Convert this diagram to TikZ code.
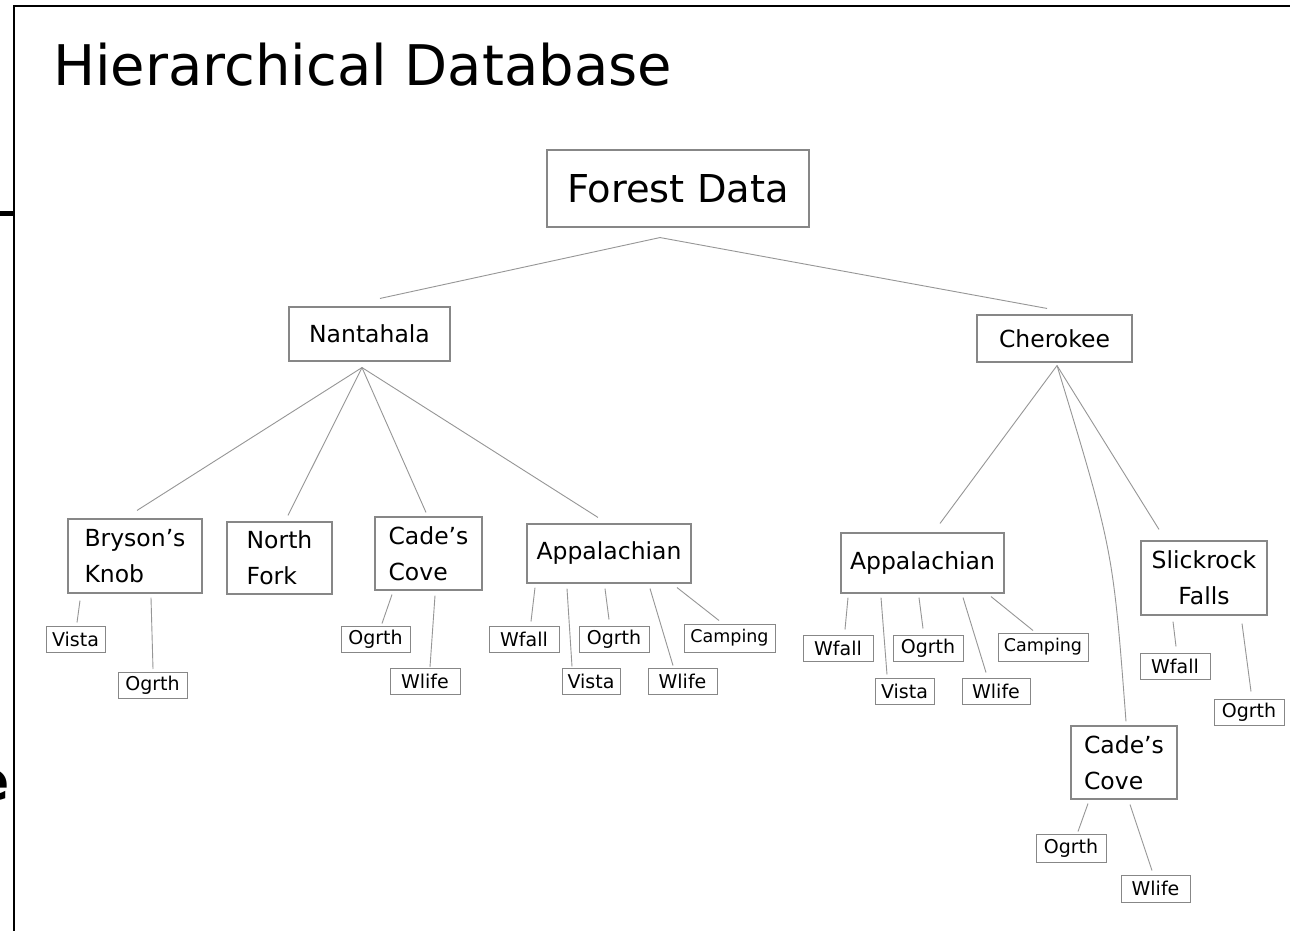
\documentclass[tikz,border=0pt]{standalone}
\usepackage{fontspec}
\setmainfont{DejaVu Sans}
\usetikzlibrary{calc}

\definecolor{boxgray}{RGB}{135,135,135}
\definecolor{linkgray}{RGB}{150,150,150}

\newcommand{\titlefont}{\fontsize{56}{60}\selectfont}
\newcommand{\rootfont}{\fontsize{38.4}{44}\selectfont}
\newcommand{\topfont}{\fontsize{23.5}{36}\selectfont}
\newcommand{\midfont}{\fontsize{23.5}{36}\selectfont}
\newcommand{\leaffont}{\fontsize{19}{22}\selectfont}
\newcommand{\campfont}{\fontsize{17.5}{20}\selectfont}

\begin{document}
\begin{tikzpicture}[x=1pt, y=-1pt,
  frame/.style={line width=2.2pt, black},
  box/.style={draw=boxgray, line width=1.1pt, inner sep=0pt, text=black},
  rootbox/.style={box, font=\rootfont},
  topbox/.style={box, font=\topfont},
  midbox/.style={box, font=\midfont, align=left},
  leaf/.style={box, font=\leaffont, line width=1pt, minimum height=26},
  link/.style={draw=linkgray, line width=0.9pt}]

\useasboundingbox[fill=white] (0,0) rectangle (1290,931);

% page frame
\draw[frame] (13.8,931) -- (13.8,5.7) -- (1290,5.7);
\draw[line width=5.5pt] (0,213.5) -- (13.8,213.5);
\node[anchor=base east, inner sep=0pt, font=\fontsize{55}{60}\selectfont\bfseries] (edge) at (10,800) {e};

% title
\node[anchor=base west, inner sep=0pt, font=\titlefont] (title) at (53,86) {Hierarchical Database};

% root and first level
\node[rootbox, minimum width=262, minimum height=77] (forest) at (678,188.5) {Forest Data};
\node[topbox, minimum width=161, minimum height=54] (nant) at (369.5,334) {Nantahala};
\node[topbox, minimum width=155, minimum height=47] (cher) at (1054.5,338.5) {Cherokee};

% second level
\node[midbox, minimum width=134, minimum height=74] (bryson) at (135,556) {Bryson's\\Knob};
\node[midbox, minimum width=105, minimum height=72] (north) at (279.5,558) {North\\Fork};
\node[midbox, minimum width=107, minimum height=73] (cadeA) at (428.5,553.5) {Cade's\\Cove};
\node[midbox, minimum width=164, minimum height=59] (appA) at (609,553.5) {Appalachian};
\node[midbox, minimum width=163, minimum height=60] (appB) at (922.5,563) {Appalachian};
\node[box, font=\midfont, align=center, minimum width=126, minimum height=74] (slick) at (1204,578) {Slickrock\\Falls};
\node[midbox, minimum width=106, minimum height=73] (cadeB) at (1124,762.5) {Cade's\\Cove};

% leaves
\node[leaf, minimum width=59] (bVista) at (75.5,639) {Vista};
\node[leaf, minimum width=69] (bOgrth) at (152.5,685.5) {Ogrth};
\node[leaf, minimum width=69] (cOgrth) at (375.5,639) {Ogrth};
\node[leaf, minimum width=70] (cWlife) at (425,681.5) {Wlife};
\node[leaf, minimum width=70] (aWfall) at (524,639) {Wfall};
\node[leaf, minimum width=58] (aVista) at (591,681) {Vista};
\node[leaf, minimum width=70] (aOgrth) at (614,639) {Ogrth};
\node[leaf, minimum width=69] (aWlife) at (682.5,681) {Wlife};
\node[leaf, minimum width=91, minimum height=28, font=\campfont] (aCamp) at (729.5,638) {Camping};
\node[leaf, minimum width=70] (pWfall) at (838,648) {Wfall};
\node[leaf, minimum width=59] (pVista) at (904.5,691) {Vista};
\node[leaf, minimum width=70] (pOgrth) at (928,648) {Ogrth};
\node[leaf, minimum width=68] (pWlife) at (996,691) {Wlife};
\node[leaf, minimum width=90, minimum height=28, font=\campfont] (pCamp) at (1043,647) {Camping};
\node[leaf, minimum width=70] (sWfall) at (1175,666) {Wfall};
\node[leaf, minimum width=70] (sOgrth) at (1249,712) {Ogrth};
\node[leaf, minimum width=70, minimum height=28] (dOgrth) at (1071,848) {Ogrth};
\node[leaf, minimum width=69, minimum height=27] (dWlife) at (1155.5,888.5) {Wlife};

% connectors: root and first level
\draw[link] ($(forest.south)+(-18,10)$) -- ($(nant.north)+(10.5,-8)$);
\draw[link] ($(forest.south)+(-18,10)$) -- ($(cher.north)+(-7.5,-6)$);

\draw[link] ($(nant.south)+(-7.5,6)$) -- ($(bryson.north)+(2,-8)$);
\draw[link] ($(nant.south)+(-7.5,6)$) -- ($(north.north)+(8.5,-6)$);
\draw[link] ($(nant.south)+(-7.5,6)$) -- ($(cadeA.north)+(-2.5,-4)$);
\draw[link] ($(nant.south)+(-7.5,6)$) -- ($(appA.north)+(-11,-6)$);

\draw[link] ($(cher.south)+(2.5,3)$) -- ($(appB.north)+(17.5,-9)$);
\draw[link] ($(cher.south)+(2.5,3)$) -- ($(slick.north)+(-45,-11)$);
\draw[link] ($(cher.south)+(2.5,3)$) .. controls ($(cher.south)+(58.5,187)$) .. ($(cadeB.north)+(2,-4)$);

% connectors: leaves
\draw[link] ($(bryson.south)+(-55,7)$) -- ($(bVista.north)+(1.5,-3)$);
\draw[link] ($(bryson.south)+(16,4)$) -- ($(bOgrth.north)+(0.5,-3)$);
\draw[link] ($(cadeA.south)+(-36.5,4)$) -- ($(cOgrth.north)+(6.5,-2)$);
\draw[link] ($(cadeA.south)+(6.5,5)$) -- ($(cWlife.north)+(5,-1)$);

\draw[link] ($(appA.south)+(-74,4)$) -- ($(aWfall.north)+(7,-4)$);
\draw[link] ($(appA.south)+(-42,5)$) -- ($(aVista.north)+(-19,-1)$);
\draw[link] ($(appA.south)+(-4,5)$) -- ($(aOgrth.north)+(-5,-6)$);
\draw[link] ($(appA.south)+(41,5)$) -- ($(aWlife.north)+(-9.5,-2)$);
\draw[link] ($(appA.south)+(68,4)$) -- ($(aCamp.north)+(-10.5,-3)$);

\draw[link] ($(appB.south)+(-74.5,4)$) -- ($(pWfall.north)+(7,-5)$);
\draw[link] ($(appB.south)+(-41.5,4)$) -- ($(pVista.north)+(-17.5,-3)$);
\draw[link] ($(appB.south)+(-3.5,4)$) -- ($(pOgrth.north)+(-5,-6)$);
\draw[link] ($(appB.south)+(40.5,4)$) -- ($(pWlife.north)+(-10,-5)$);
\draw[link] ($(appB.south)+(68.5,3)$) -- ($(pCamp.north)+(-10,-2)$);

\draw[link] ($(slick.south)+(-31,6)$) -- ($(sWfall.north)+(1,-6)$);
\draw[link] ($(slick.south)+(38,8)$) -- ($(sOgrth.north)+(2,-7)$);

\draw[link] ($(cadeB.south)+(-36,4)$) -- ($(dOgrth.north)+(7,-2)$);
\draw[link] ($(cadeB.south)+(6,5)$) -- ($(dWlife.north)+(-3.5,-4)$);
\end{tikzpicture}
\end{document}
